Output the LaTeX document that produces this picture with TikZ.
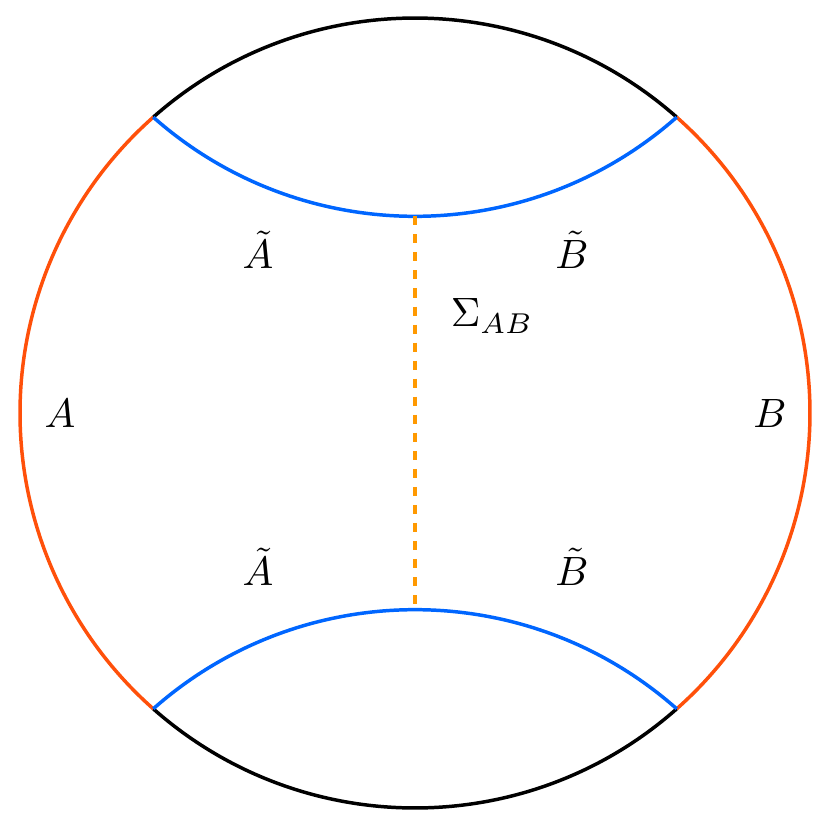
\documentclass[tikz,border=0pt]{standalone}
\usetikzlibrary{calc}
\begin{document}
\begin{tikzpicture}[x=0.244pt,y=0.244pt,
  bnd/.style={line width=0.85pt},
  geo/.style={line width=0.85pt, draw=geoblue},
  reg/.style={line width=0.85pt, draw=regred},
  cut/.style={line width=0.85pt, draw=cutorange, dash pattern=on 2.2pt off 2.2pt},
  lbl/.style={inner sep=0pt}]
\definecolor{geoblue}{RGB}{0,102,255}
\definecolor{regred}{RGB}{255,80,10}
\definecolor{cutorange}{RGB}{255,153,0}
\useasboundingbox (0,0) rectangle (830,830);
\coordinate (c) at (415,417);
\coordinate (ur) at ($(c)+(48.5:395)$);
\coordinate (ul) at ($(c)+(131.5:395)$);
\coordinate (ll) at ($(c)+(228.5:395)$);
\coordinate (lr) at ($(c)+(311.5:395)$);
% boundary arcs
\draw[bnd] (ur) arc[start angle=48.5, end angle=131.5, radius=395];
\draw[bnd] (ll) arc[start angle=228.5, end angle=311.5, radius=395];
\draw[reg] (ul) arc[start angle=131.5, end angle=228.5, radius=395];
\draw[reg] (lr) arc[start angle=-48.5, end angle=48.5, radius=395];
% geodesics
\draw[geo] (ul) arc[start angle=-131.5, end angle=-48.5, radius=395];
\draw[geo] (ll) arc[start angle=131.5, end angle=48.5, radius=395];
\coordinate (tbot) at ($(ul)+(-131.5:-395)+(-90:395)$);
\coordinate (btop) at ($(ll)+(131.5:-395)+(90:395)$);
\draw[cut] (tbot) -- (btop);
% labels
\node[lbl] (at1) at (258,580) {$\tilde{A}$};
\node[lbl] (bt1) at (572,580) {$\tilde{B}$};
\node[lbl] (sig) at (492,514) {$\Sigma_{AB}$};
\node[lbl] (a) at (60,417) {$A$};
\node[lbl] (b) at (770,417) {$B$};
\node[lbl] (at2) at (258,263) {$\tilde{A}$};
\node[lbl] (bt2) at (572,263) {$\tilde{B}$};
\end{tikzpicture}
\end{document}
